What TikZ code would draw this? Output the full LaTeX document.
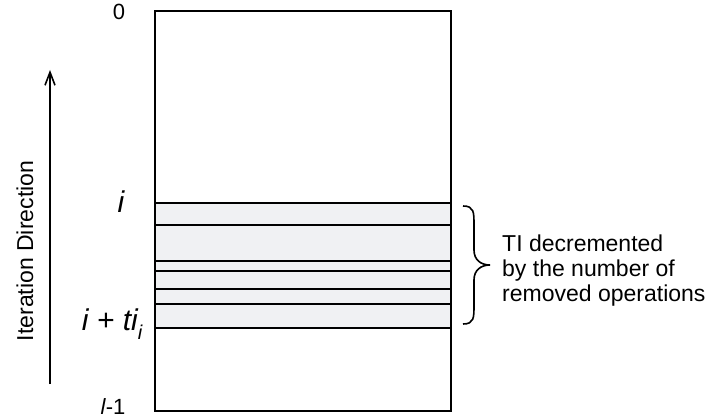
\documentclass[tikz,border=0pt]{standalone}
\usepackage{fontspec}
\setmainfont{Liberation Sans}
\usetikzlibrary{arrows.meta}
\definecolor{bandfill}{HTML}{F0F1F3}
\begin{document}
\begin{tikzpicture}[x=1pt,y=-1pt,
  rline/.style={line width=1.8pt,black},
  lbl/.style={font=\fontsize{22}{25}\selectfont,inner sep=0pt},
  mathlbl/.style={font=\fontsize{30}{34}\selectfont\itshape,inner sep=0pt}]
\useasboundingbox (0,0) rectangle (715,420);
% bands
\fill[bandfill] (155,203) rectangle (451,328);
\coordinate (tl) at (155,11);
\coordinate (br) at (451,411);
\draw[rline] (tl) rectangle (br);
\foreach \y in {203,225,261,271,289,304,328}
  \draw[rline] (155,\y) -- (451,\y);
% brace
\coordinate (bt) at (463,206);
\coordinate (btip) at (490,265);
\coordinate (bb) at (463,324);
\draw[line width=1.6pt] (bt) .. controls (474,206) and (474,212) .. (474,225) -- (474,250)
  .. controls (474,260) and (481,265) .. (btip)
  .. controls (481,265) and (474,270) .. (474,280) -- (474,305)
  .. controls (474,318) and (474,324) .. (bb);
\node[font=\fontsize{23}{25}\selectfont,inner sep=0pt,anchor=west,align=left] (txt) at (502,271) {TI decremented\\by the number of\\removed operations};
% arrow
\coordinate (a0) at (50,384);
\coordinate (a1) at (50,70);
\draw[line width=1.6pt,-{Straight Barb[length=13pt,width=10pt,line width=1.6pt]}] (a0) -- (a1);
\node[lbl,rotate=90,anchor=base,font=\fontsize{23}{25}\selectfont] (dir) at (33,251) {Iteration Direction};
% labels
\node[lbl,anchor=base] (zero) at (119,20) {0};
\node[mathlbl,anchor=base] (li) at (121,212) {i};
\node[mathlbl,anchor=base east] (lti) at (138,330) {i + ti};
\node[font=\fontsize{20}{22}\selectfont\itshape,inner sep=0pt,anchor=base] (sub) at (140,339) {i};
\node[lbl,anchor=base] (lend) at (113,414) {\textit{l}-1};
\end{tikzpicture}
\end{document}
